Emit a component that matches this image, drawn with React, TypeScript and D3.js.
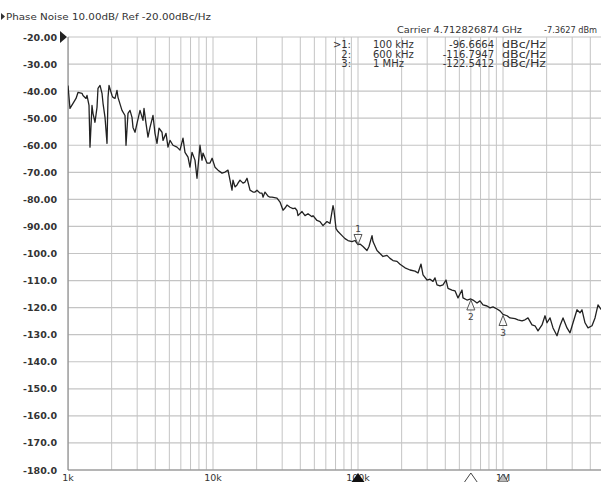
import React from "react";
import * as d3 from "d3";

const traceFreq: number[] = [
  1000, 1032, 1083, 1136, 1172, 1249, 1269, 1331, 1352, 1396, 1418, 1464, 1487, 1535, 1585, 1610, 1663, 1716, 1744, 1800,
  1858, 1888, 1918, 2012, 2044, 2110, 2177, 2212, 2357, 2473, 2512, 2593, 2677, 2763, 2808, 2899, 2992, 3138, 3290, 3343,
  3451, 3562, 3678, 3857, 3981, 4110, 4243, 4449, 4522, 4742, 4894, 5052, 5298, 5646, 5921, 6210, 6410, 6725, 6938, 7164,
  7513, 7756, 8134, 8396, 8531, 9091, 9535, 9860, 10323, 10827, 11535, 12102, 12689, 13521, 13740, 14181, 14637, 14873, 15353, 16104,
  16620, 17161, 18000, 18879, 19487, 20113, 21098, 21777, 22126, 22838, 23953, 24728, 25523, 27631, 28990, 30405, 31383, 32383, 33963, 35628,
  36775, 37962, 38571, 41105, 43109, 45213, 48183, 48939, 52140, 54690, 57360, 61120, 64120, 67262, 68310, 70520, 72790, 77580, 81350, 85310,
  90910, 95350, 100000, 103230, 108270, 115340, 119090, 124940, 126890, 135210, 141810, 148730, 158490, 166200, 174300, 185780, 194870, 211000, 228400, 247280,
  259350, 271990, 280820, 299200, 313830, 329040, 339620, 350640, 367750, 385710, 404560, 417640, 444880, 466660, 489400, 521520, 529830, 564640, 600000, 621030,
  661960, 694000, 727800, 775600, 813500, 853100, 909100, 953500, 1000000, 1065600, 1117500, 1210200, 1268900, 1352100, 1418100, 1487300, 1584900, 1662000, 1743000, 1857800,
  1948700, 2011500, 2110000, 2212600, 2357600, 2472800, 2593500, 2763000, 2899000, 3040500, 3238600, 3396400, 3505500, 3677500, 3857000, 4110500, 4310900, 4521300, 4666600, 4800000,
];

const traceDbc: number[] = [
  -37.9, -46.4, -44.5, -42.7, -40.5, -40.8, -41.6, -42.7, -41.6, -45.3, -60.7, -45.3, -48.2, -51.5, -46, -39, -37.9, -40.8, -44.5, -49.7,
  -59.3, -42.3, -37.9, -41.6, -42.3, -42.7, -39.7, -42.3, -47.1, -49, -60, -48.2, -47.1, -49.7, -53.4, -55.2, -51.9, -47.1, -50.8, -46.4,
  -51.9, -57, -53.4, -49, -55.6, -59.3, -53.7, -55.2, -58.2, -55.6, -60.7, -58.2, -60, -60.7, -61.8, -57.4, -62.6, -64.4, -68.1, -62.6,
  -65.5, -72.2, -60, -65.5, -62.9, -66.6, -66.6, -64.8, -68.1, -69.2, -70.3, -69.9, -69.2, -76.6, -72.9, -75.4, -74.7, -74, -72.9, -74,
  -73.6, -72.2, -76.6, -77.3, -77.3, -76.6, -77.7, -77.7, -79.2, -77.3, -78.8, -79.2, -79.2, -79.5, -81, -84, -83.2, -82.1, -82.9, -83.4,
  -83.2, -84.1, -86, -84.5, -86, -85.3, -86.4, -86, -87.8, -88.2, -89.7, -88.2, -88.9, -82.3, -84.1, -90.8, -91.9, -93.4, -94.5, -95.2,
  -95.6, -95.2, -96.7, -96.5, -97.4, -98.9, -97.4, -93.4, -95.6, -98.9, -100, -101.1, -100.7, -101.8, -102.6, -102.9, -104, -105.3, -106.1, -106.5,
  -107.2, -103.9, -107.9, -109.8, -109.5, -110.3, -109, -111.6, -112, -111.6, -109.8, -112.9, -113.5, -113.8, -116.4, -113.5, -116.4, -117.2, -116.8, -117.2,
  -118.3, -117.5, -119, -119.4, -120.1, -119.7, -120.5, -121.2, -122.5, -123, -123.8, -124.1, -124.5, -124.9, -124.5, -123.8, -126.4, -126.7, -128.6, -126.4,
  -123, -125.6, -123.8, -127.5, -130.4, -126.7, -123.8, -127.5, -129.3, -125.6, -120.8, -121.9, -120.8, -125.6, -127.5, -126.7, -123.8, -119, -120.1, -121,
];

const yTicks: number[] = [-20, -30, -40, -50, -60, -70, -80, -90, -100, -110, -120, -130, -140, -150, -160, -170, -180];
const xDecades: number[] = [1e3, 1e4, 1e5, 1e6];
const xLabels: string[] = ["1k", "10k", "100k", "1M"];

const markerIds: string[] = ["1", "2", "3"];
const markerFreq: number[] = [100000, 600000, 1000000];
const markerDbc: number[] = [-96.6664, -116.7947, -122.5412];
const markerFreqText: string[] = ["100 kHz", "600 kHz", "1 MHz"];
const markerValText: string[] = ["-96.6664", "-116.7947", "-122.5412"];

const headerText = "Phase Noise 10.00dB/ Ref -20.00dBc/Hz";
const carrierText = "Carrier 4.712826874 GHz";
const carrierPower = "-7.3627 dBm";

export default function App() {
  const W = 601;
  const H = 482;
  const left = 68;
  const top = 37;
  const bottom = 470;
  const x = d3.scaleLog().domain([1e3, 1e7]).range([left, left + 4 * 145]);
  const y = d3.scaleLinear().domain([-20, -180]).range([top, bottom]);

  const gridFreqs: number[] = [];
  xDecades.forEach((d) => {
    for (let m = 1; m <= 9; m++) gridFreqs.push(d * m);
  });
  gridFreqs.push(1e7);

  const pts: [number, number][] = traceFreq.map((f, i) => [f, traceDbc[i]]);
  const line = d3
    .line<[number, number]>()
    .x((d) => x(d[0]))
    .y((d) => y(d[1]));

  const font = "Tahoma, 'DejaVu Sans', sans-serif";
  const txt = "#333";
  const fmt = (v: number) => (v > -100 ? v.toFixed(2) : v.toFixed(1));

  return (
    <svg
      width={W}
      height={H}
      style={{ position: "absolute", left: 0, top: 0, background: "#fff" }}
      fontFamily={font}
    >
      <defs>
        <clipPath id="plot">
          <rect x={left} y={top - 1} width={W - left} height={bottom - top + 2} />
        </clipPath>
      </defs>
      <rect x={0} y={0} width={W} height={H} fill="#fff" />
      {/* header */}
      <path d="M1,13 L5,16.5 L1,20 Z" fill="#333" />
      <text x={6} y={20} fontSize={9.5} fill={txt} textLength={205} lengthAdjust="spacingAndGlyphs">
        {headerText}
      </text>
      {/* grid */}
      <g clipPath="url(#plot)">
        {gridFreqs.map((f, i) => (
          <line key={"v" + i} x1={x(f)} x2={x(f)} y1={top} y2={bottom} stroke="#c4c4c4" strokeWidth={1} />
        ))}
        {yTicks.map((v, i) => (
          <line key={"h" + i} x1={left} x2={W} y1={y(v)} y2={y(v)} stroke="#c4c4c4" strokeWidth={1.2} />
        ))}
      </g>
      <line x1={left} x2={left} y1={top} y2={bottom} stroke="#8a8a8a" strokeWidth={1.2} />
      <line x1={left} x2={W} y1={bottom} y2={bottom} stroke="#8a8a8a" strokeWidth={1.2} />
      {/* y labels */}
      {yTicks.map((v, i) => (
        <text
          key={"yl" + i}
          x={57}
          y={y(v) + 3.5}
          textAnchor="end"
          fontSize={9.5}
          fill={txt}
          fontWeight="bold"
        >
          {fmt(v)}
        </text>
      ))}
      {/* ref marker */}
      <path d={`M${left - 8},${y(-20) - 6} L${left - 1},${y(-20)} L${left - 8},${y(-20) + 6} Z`} fill="#222" />
      {/* carrier + marker table */}
      <text x={397} y={33} fontSize={9.5} fill={txt} textLength={125} lengthAdjust="spacingAndGlyphs">
        {carrierText}
      </text>
      <text x={544} y={33} fontSize={9.5} fill={txt} textLength={53} lengthAdjust="spacingAndGlyphs">
        {carrierPower}
      </text>
      {markerIds.map((id, i) => {
        const ty = 48 + i * 9.5;
        return (
          <g key={"row" + i} fontSize={10} fill={txt} fontFamily="'DejaVu Sans', sans-serif">
            <text x={351} y={ty} textAnchor="end">
              {(i === 0 ? ">" : "") + id + ":"}
            </text>
            <text x={373} y={ty}>
              {markerFreqText[i]}
            </text>
            <text x={494} y={ty} textAnchor="end">
              {markerValText[i]}
            </text>
            <text x={502} y={ty} textLength={44} lengthAdjust="spacingAndGlyphs">
              dBc/Hz
            </text>
          </g>
        );
      })}
      {/* trace */}
      <g clipPath="url(#plot)">
        <path d={line(pts) || ""} fill="none" stroke="#222" strokeWidth={1.3} strokeLinejoin="round" />
      </g>
      {/* trace markers */}
      {markerIds.map((id, i) => {
        const mx = x(markerFreq[i]);
        const my = y(markerDbc[i]);
        if (i === 0) {
          return (
            <g key={"m" + i}>
              <path d={`M${mx - 4},${my - 10} L${mx + 4},${my - 10} L${mx},${my} Z`} fill="#fff" fillOpacity={0.6} stroke="#555" strokeWidth={1} />
              <text x={mx} y={my - 12} textAnchor="middle" fontSize={9} fill="#444">
                {id}
              </text>
            </g>
          );
        }
        return (
          <g key={"m" + i}>
            <path d={`M${mx - 4},${my + 11} L${mx + 4},${my + 11} L${mx},${my + 1} Z`} fill="#fff" fillOpacity={0.6} stroke="#555" strokeWidth={1} />
            <text x={mx} y={my + 21} textAnchor="middle" fontSize={9} fill="#444">
              {id}
            </text>
          </g>
        );
      })}
      {/* x labels */}
      {xDecades.map((d, i) => (
        <text key={"xl" + i} x={x(d)} y={481} textAnchor="middle" fontSize={9.5} fill={txt}>
          {xLabels[i]}
        </text>
      ))}
      {/* bottom markers */}
      <path d={`M${x(1e5) - 8},${H + 2} L${x(1e5)},${bottom + 3} L${x(1e5) + 8},${H + 2} Z`} fill="#111" />
      <path d={`M${x(6e5) - 7},${H + 1} L${x(6e5)},${bottom + 3} L${x(6e5) + 7},${H + 1} Z`} fill="#fff" stroke="#444" strokeWidth={1} />
      <path d={`M${x(1e6) - 5},${H} L${x(1e6)},${bottom + 4} L${x(1e6) + 5},${H} Z`} fill="#bbb" stroke="#555" strokeWidth={1} />
    </svg>
  );
}
